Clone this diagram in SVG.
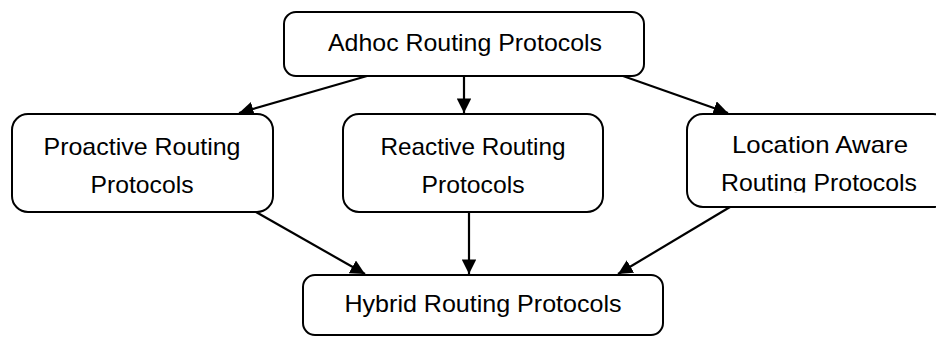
<svg xmlns="http://www.w3.org/2000/svg" width="936" height="337" viewBox="0 0 936 337">
  <style>
    .box { fill: #ffffff; stroke: #000000; stroke-width: 2; }
    .lbl { font-family: "Liberation Sans", Arial, sans-serif; font-size: 24px; fill: #000000; text-anchor: middle; }
    .edge { stroke: #000000; stroke-width: 2.2; fill: none; marker-end: url(#arrow); }
  </style>
  <defs>
    <marker id="arrow" viewBox="0 0 10 10" refX="10" refY="5" markerWidth="6.6" markerHeight="6.6" markerUnits="strokeWidth" orient="auto">
      <path d="M0,0 L10,5 L0,10 Z" fill="#000000"/>
    </marker>
    <clipPath id="clipLoc">
      <rect x="680" y="100" width="260" height="92.5"/>
    </clipPath>
  </defs>
  <rect width="936" height="337" fill="#ffffff"/>

  <g id="connectors">
    <line class="edge" x1="367" y1="76" x2="239" y2="113"/>
    <line class="edge" x1="464" y1="76" x2="464" y2="113"/>
    <line class="edge" x1="623" y1="76" x2="728" y2="113"/>
    <line class="edge" x1="256" y1="212" x2="365" y2="274"/>
    <line class="edge" x1="469" y1="212" x2="469" y2="274"/>
    <line class="edge" x1="730" y1="207" x2="618" y2="274"/>
  </g>

  <g id="adhoc">
    <rect class="box" x="284" y="12" width="360" height="64" rx="12"/>
    <text class="lbl" x="465" y="51" textLength="274" lengthAdjust="spacingAndGlyphs">Adhoc Routing Protocols</text>
  </g>

  <g id="proactive">
    <rect class="box" x="12" y="114" width="261" height="98" rx="16"/>
    <text class="lbl" x="142" y="155" textLength="197" lengthAdjust="spacingAndGlyphs">Proactive Routing</text>
    <text class="lbl" x="142" y="193" textLength="103" lengthAdjust="spacingAndGlyphs">Protocols</text>
  </g>

  <g id="reactive">
    <rect class="box" x="343" y="114" width="260" height="98" rx="16"/>
    <text class="lbl" x="473" y="155" textLength="185" lengthAdjust="spacingAndGlyphs">Reactive Routing</text>
    <text class="lbl" x="473" y="193" textLength="103" lengthAdjust="spacingAndGlyphs">Protocols</text>
  </g>

  <g id="location">
    <rect class="box" x="687" y="114" width="262" height="93" rx="16"/>
    <text class="lbl" x="820" y="153" textLength="176" lengthAdjust="spacingAndGlyphs">Location Aware</text>
    <text class="lbl" x="819" y="191" textLength="196" lengthAdjust="spacingAndGlyphs" clip-path="url(#clipLoc)">Routing Protocols</text>
  </g>

  <g id="hybrid">
    <rect class="box" x="303" y="275" width="360" height="60" rx="12"/>
    <text class="lbl" x="483" y="312" textLength="277" lengthAdjust="spacingAndGlyphs">Hybrid Routing Protocols</text>
  </g>
</svg>
